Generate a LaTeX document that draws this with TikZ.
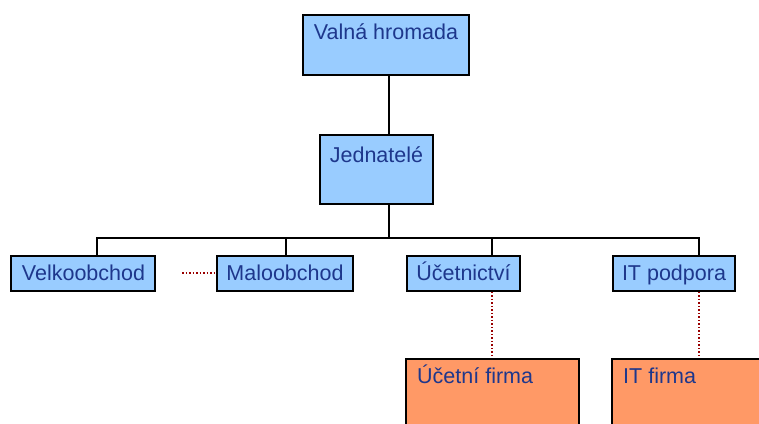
\documentclass[tikz,border=0pt]{standalone}
\usepackage{fontspec}
\setmainfont{Liberation Sans}
\definecolor{boxblue}{RGB}{153,204,255}
\definecolor{boxorange}{RGB}{255,153,102}
\definecolor{txtblue}{RGB}{30,55,140}
\definecolor{dotred}{RGB}{153,0,0}
\begin{document}
\begin{tikzpicture}[x=1pt,y=-1pt,
  bluebox/.style={draw=black, line width=1.5pt, fill=boxblue, inner sep=0pt, rectangle},
  orangebox/.style={draw=black, line width=1.5pt, fill=boxorange, inner sep=0pt, rectangle},
  lbl/.style={text=txtblue, font=\fontsize{21.5}{25}\selectfont, inner sep=0pt},
  conn/.style={draw=black, line width=1.5pt},
  dotconn/.style={draw=dotred, line width=1.5pt, dotted}]
\clip (0,0) rectangle (759,423);
\useasboundingbox (0,0) rectangle (759,423);
% boxes
\node[bluebox, minimum width=166pt, minimum height=60pt] (vh) at (386,45) {};
\node[bluebox, minimum width=113pt, minimum height=69pt] (jd) at (376.5,169.5) {};
\node[bluebox, minimum width=144pt, minimum height=35pt] (vo) at (83,273.5) {};
\node[bluebox, minimum width=136pt, minimum height=35pt] (mo) at (285,273.5) {};
\node[bluebox, minimum width=113pt, minimum height=35pt] (uc) at (463.5,273.5) {};
\node[bluebox, minimum width=122pt, minimum height=35pt] (it) at (674,273.5) {};
\node[orangebox, minimum width=173pt, minimum height=100pt] (uf) at (492.5,409) {};
\node[orangebox, minimum width=180pt, minimum height=100pt] (itf) at (702,409) {};
% texts
\node[lbl, anchor=base] (tvh) at (386,39) {Valná hromada};
\node[lbl, anchor=base] (tjd) at (376.5,162) {Jednatelé};
\node[lbl, anchor=base] (tvo) at (83.5,280) {Velkoobchod};
\node[lbl, anchor=base] (tmo) at (285,280) {Maloobchod};
\node[lbl, anchor=base] (tuc) at (463.5,280) {Účetnictví};
\node[lbl, anchor=base] (tit) at (674,280) {IT podpora};
\node[lbl, anchor=base west] (tuf) at (417,383) {Účetní firma};
\node[lbl, anchor=base west] (titf) at (623,383) {IT firma};
% connectors
\coordinate (bus) at (389,238);
\draw[conn] (vh.south -| bus) -- (jd.north -| bus);
\draw[conn] (jd.south -| bus) -- (bus);
\draw[conn] (97,0 |- vo.north) |- (bus) -| (699,0 |- it.north);
\draw[conn] (286,0 |- mo.north) -- (286,0 |- bus);
\draw[conn] (492,0 |- uc.north) -- (492,0 |- bus);
\draw[dotconn] (182,273) -- (mo.west |- 0,273);
\draw[dotconn] (492,0 |- uc.south) -- (492,0 |- uf.north);
\draw[dotconn] (699,0 |- it.south) -- (699,0 |- itf.north);
\end{tikzpicture}
\end{document}
